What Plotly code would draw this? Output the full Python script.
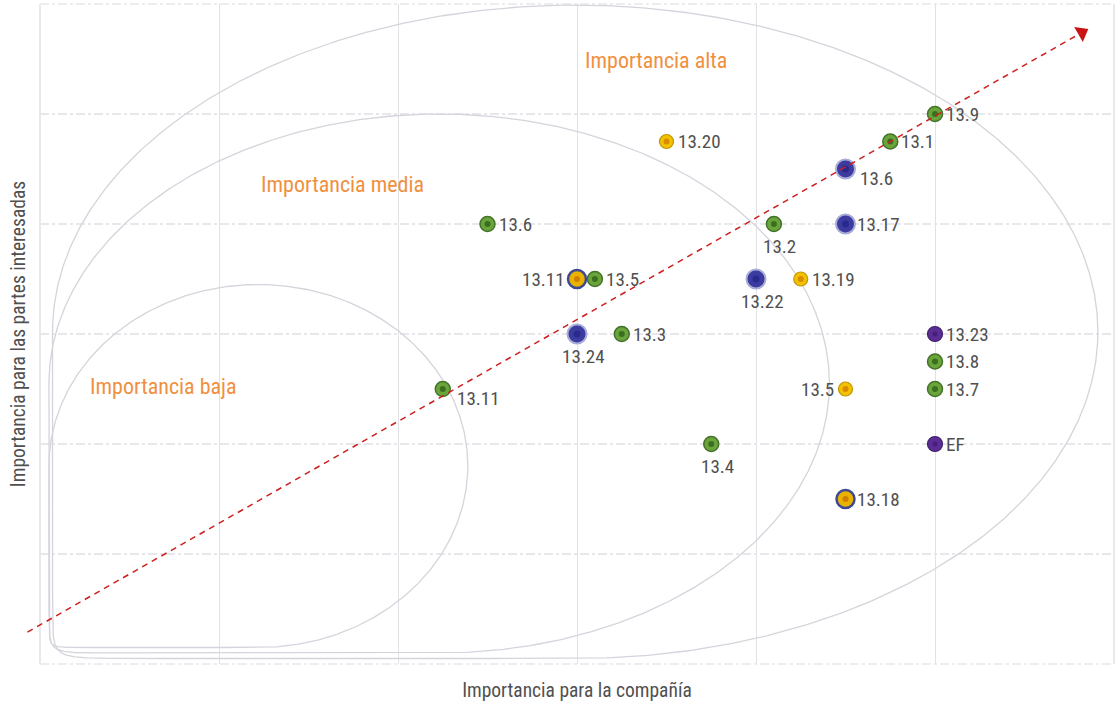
import numpy as np
import plotly.graph_objects as go

# ---- data ----
labels = ["13.9", "13.1", "13.6", "13.17", "13.2", "13.22", "13.19", "13.20", "13.6", "13.11",
          "13.5", "13.24", "13.3", "13.11", "13.4", "13.5", "13.23", "13.8", "13.7", "EF", "13.18"]
imp_compania = [5.0, 4.75, 4.5, 4.5, 4.1, 4.0, 4.25, 3.5, 2.5, 3.0,
                3.1, 3.0, 3.25, 2.25, 3.75, 4.5, 5.0, 5.0, 5.0, 5.0, 4.5]
imp_partes = [5.0, 4.75, 4.5, 4.0, 4.0, 3.5, 3.5, 4.75, 4.0, 3.5,
              3.5, 3.0, 3.0, 2.5, 2.0, 2.5, 3.0, 2.75, 2.5, 2.0, 1.5]
grupo = ["verde", "verde", "azul", "azul", "verde", "azul", "amarillo", "amarillo", "verde", "mixto",
         "verde", "azul", "verde", "verde", "verde", "amarillo", "morado", "verde", "verde", "morado", "mixto"]

# region outlines: (centre x, centre y, radius x, radius y)
zonas = {
    "alta": (2.99, 3.02, 2.92, 2.97),
    "media": (2.23, 2.55, 2.18, 2.45),
    "baja": (1.22, 1.80, 1.17, 1.65),
}
zona_textos = [("Importancia alta", 3.44, 5.49), ("Importancia media", 1.69, 4.36),
               ("Importancia baja", 0.69, 2.52)]

# trend arrow (data units)
flecha_ini = (-0.07, 0.29)
flecha_fin = (5.82, 5.74)

# ---- layout geometry ----
W, H = 1115, 704
ML, MR, MT, MB = 40, 1, 4, 40
XR = [0, 6]
YR = [0, 6]

FONT = "Liberation Sans Narrow, Roboto Condensed, DejaVu Sans Condensed, Arial Narrow, Roboto, sans-serif"
TXT = "#505050"
NARANJA = "#f0903f"
GRID = "#e2e2e6"

estilos = {
    "verde":    dict(size=15, color="#6aa53c", line="#44722a", lw=1.5, core="#3b6e20", cs=6),
    "azul":     dict(size=19, color="#3b3ba0", line="#a8acd6", lw=2.0, core="#2a2a8e", cs=7),
    "amarillo": dict(size=14, color="#f2c200", line="#c49400", lw=1.2, core="#d98c00", cs=6),
    "mixto":    dict(size=18, color="#e9b200", line="#3c4a92", lw=2.5, core="#d07f00", cs=6),
    "morado":   dict(size=15, color="#5c2d94", line="#40206e", lw=1.2, core="#45207a", cs=5),
}

# label placement per point: r = right, rd = right & lower, b = below, l = left
colocacion = ["r", "r", "rd", "r", "b", "b", "r", "r", "r", "l",
              "r", "b", "r", "rd", "b", "l", "r", "r", "r", "r", "r"]

fig = go.Figure()

# region outlines: ellipse with the lower-left quadrant squared into the corner
t = np.linspace(0, 2 * np.pi, 721)
for cx, cy, rx, ry in zonas.values():
    c, s = np.cos(t), np.sin(t)
    ll = (c < 0) & (s < 0)
    ex = np.where(ll, 2 / 40, 1.0)
    px = cx + rx * np.sign(c) * np.abs(c) ** ex
    py = cy + ry * np.sign(s) * np.abs(s) ** ex
    fig.add_trace(go.Scatter(x=px, y=py, mode="lines",
                             line=dict(color="#d4d4dc", width=1.3),
                             hoverinfo="skip", showlegend=False))

# points
for g, st in estilos.items():
    idx = [i for i, k in enumerate(grupo) if k == g]
    xs = [imp_compania[i] for i in idx]
    ys = [imp_partes[i] for i in idx]
    fig.add_trace(go.Scatter(x=xs, y=ys, mode="markers", cliponaxis=False,
                             marker=dict(size=st["size"], color=st["color"],
                                         line=dict(color=st["line"], width=st["lw"])),
                             hoverinfo="skip", showlegend=False))
    fig.add_trace(go.Scatter(x=xs, y=ys, mode="markers", cliponaxis=False,
                             marker=dict(size=st["cs"], color=st["core"], line=dict(width=0)),
                             hoverinfo="skip", showlegend=False))

# point labels
for lab, x, y, pos in zip(labels, imp_compania, imp_partes, colocacion):
    if pos == "r":
        kw = dict(xanchor="left", yanchor="middle", xshift=9, yshift=0)
    elif pos == "rd":
        kw = dict(xanchor="left", yanchor="middle", xshift=12, yshift=-9)
    elif pos == "b":
        kw = dict(xanchor="center", yanchor="middle", xshift=6, yshift=-22)
    else:
        kw = dict(xanchor="right", yanchor="middle", xshift=-10, yshift=0)
    fig.add_annotation(x=x, y=y, text=lab, showarrow=False,
                       font=dict(family=FONT, size=19, color=TXT), **kw)

for txt, x, y in zona_textos:
    fig.add_annotation(x=x, y=y, text=txt, showarrow=False,
                       font=dict(family=FONT, size=22, color=NARANJA))

def to_paper(x, y):
    return ((x - XR[0]) / (XR[1] - XR[0]), (y - YR[0]) / (YR[1] - YR[0]))

# frame of the grid (edge lines are not drawn by the axis grid)
fig.add_shape(type="line", xref="paper", yref="paper", x0=0, x1=0, y0=0, y1=1,
              line=dict(color=GRID, width=1.5), layer="below")
fig.add_shape(type="line", xref="paper", yref="paper", x0=1, x1=1, y0=0, y1=1,
              line=dict(color=GRID, width=1.5), layer="below")
for yy in (0, 1):
    fig.add_shape(type="line", xref="paper", yref="paper", x0=0, x1=1, y0=yy, y1=yy,
                  line=dict(color="#e8e8ec", width=1.5, dash="dashdot"), layer="below")

# trend arrow: dashed line in paper units (it runs past the left edge), head as a marker
p0 = to_paper(*flecha_ini)
p1 = to_paper(*flecha_fin)
fig.add_shape(type="line", xref="paper", yref="paper", x0=p0[0], y0=p0[1], x1=p1[0], y1=p1[1],
              line=dict(color="#cc1f1f", width=1.5, dash="6px,5px"), layer="above")
pw, ph = W - ML - MR, H - MT - MB
dxp = (p1[0] - p0[0]) * pw
dyp = (p1[1] - p0[1]) * ph
ang = 90 - np.degrees(np.arctan2(dyp, dxp))
fig.add_trace(go.Scatter(x=[flecha_fin[0]], y=[flecha_fin[1]], mode="markers", cliponaxis=False,
                         marker=dict(symbol="triangle-up", size=15, angle=ang, color="#c81414",
                                     line=dict(width=0)),
                         hoverinfo="skip", showlegend=False))

fig.update_layout(
    width=W, height=H, margin=dict(l=ML, r=MR, t=MT, b=MB, pad=0),
    paper_bgcolor="white", plot_bgcolor="white", showlegend=False,
    font=dict(family=FONT, color=TXT),
)
fig.update_xaxes(range=XR, dtick=1, tick0=0, showticklabels=False, ticks="",
                 showgrid=True, gridcolor=GRID, gridwidth=1, zeroline=False, showline=False,
                 title=dict(text="Importancia para la compañía", standoff=19,
                            font=dict(family=FONT, size=19.5, color=TXT)))
fig.update_yaxes(range=YR, dtick=1, tick0=0, showticklabels=False, ticks="",
                 showgrid=True, gridcolor="#e8e8ec", gridwidth=1.5, griddash="dashdot",
                 zeroline=False, showline=False,
                 title=dict(text="Importancia para las partes interesadas", standoff=8,
                            font=dict(family=FONT, size=19.5, color=TXT)))

fig.write_html("out.html")
